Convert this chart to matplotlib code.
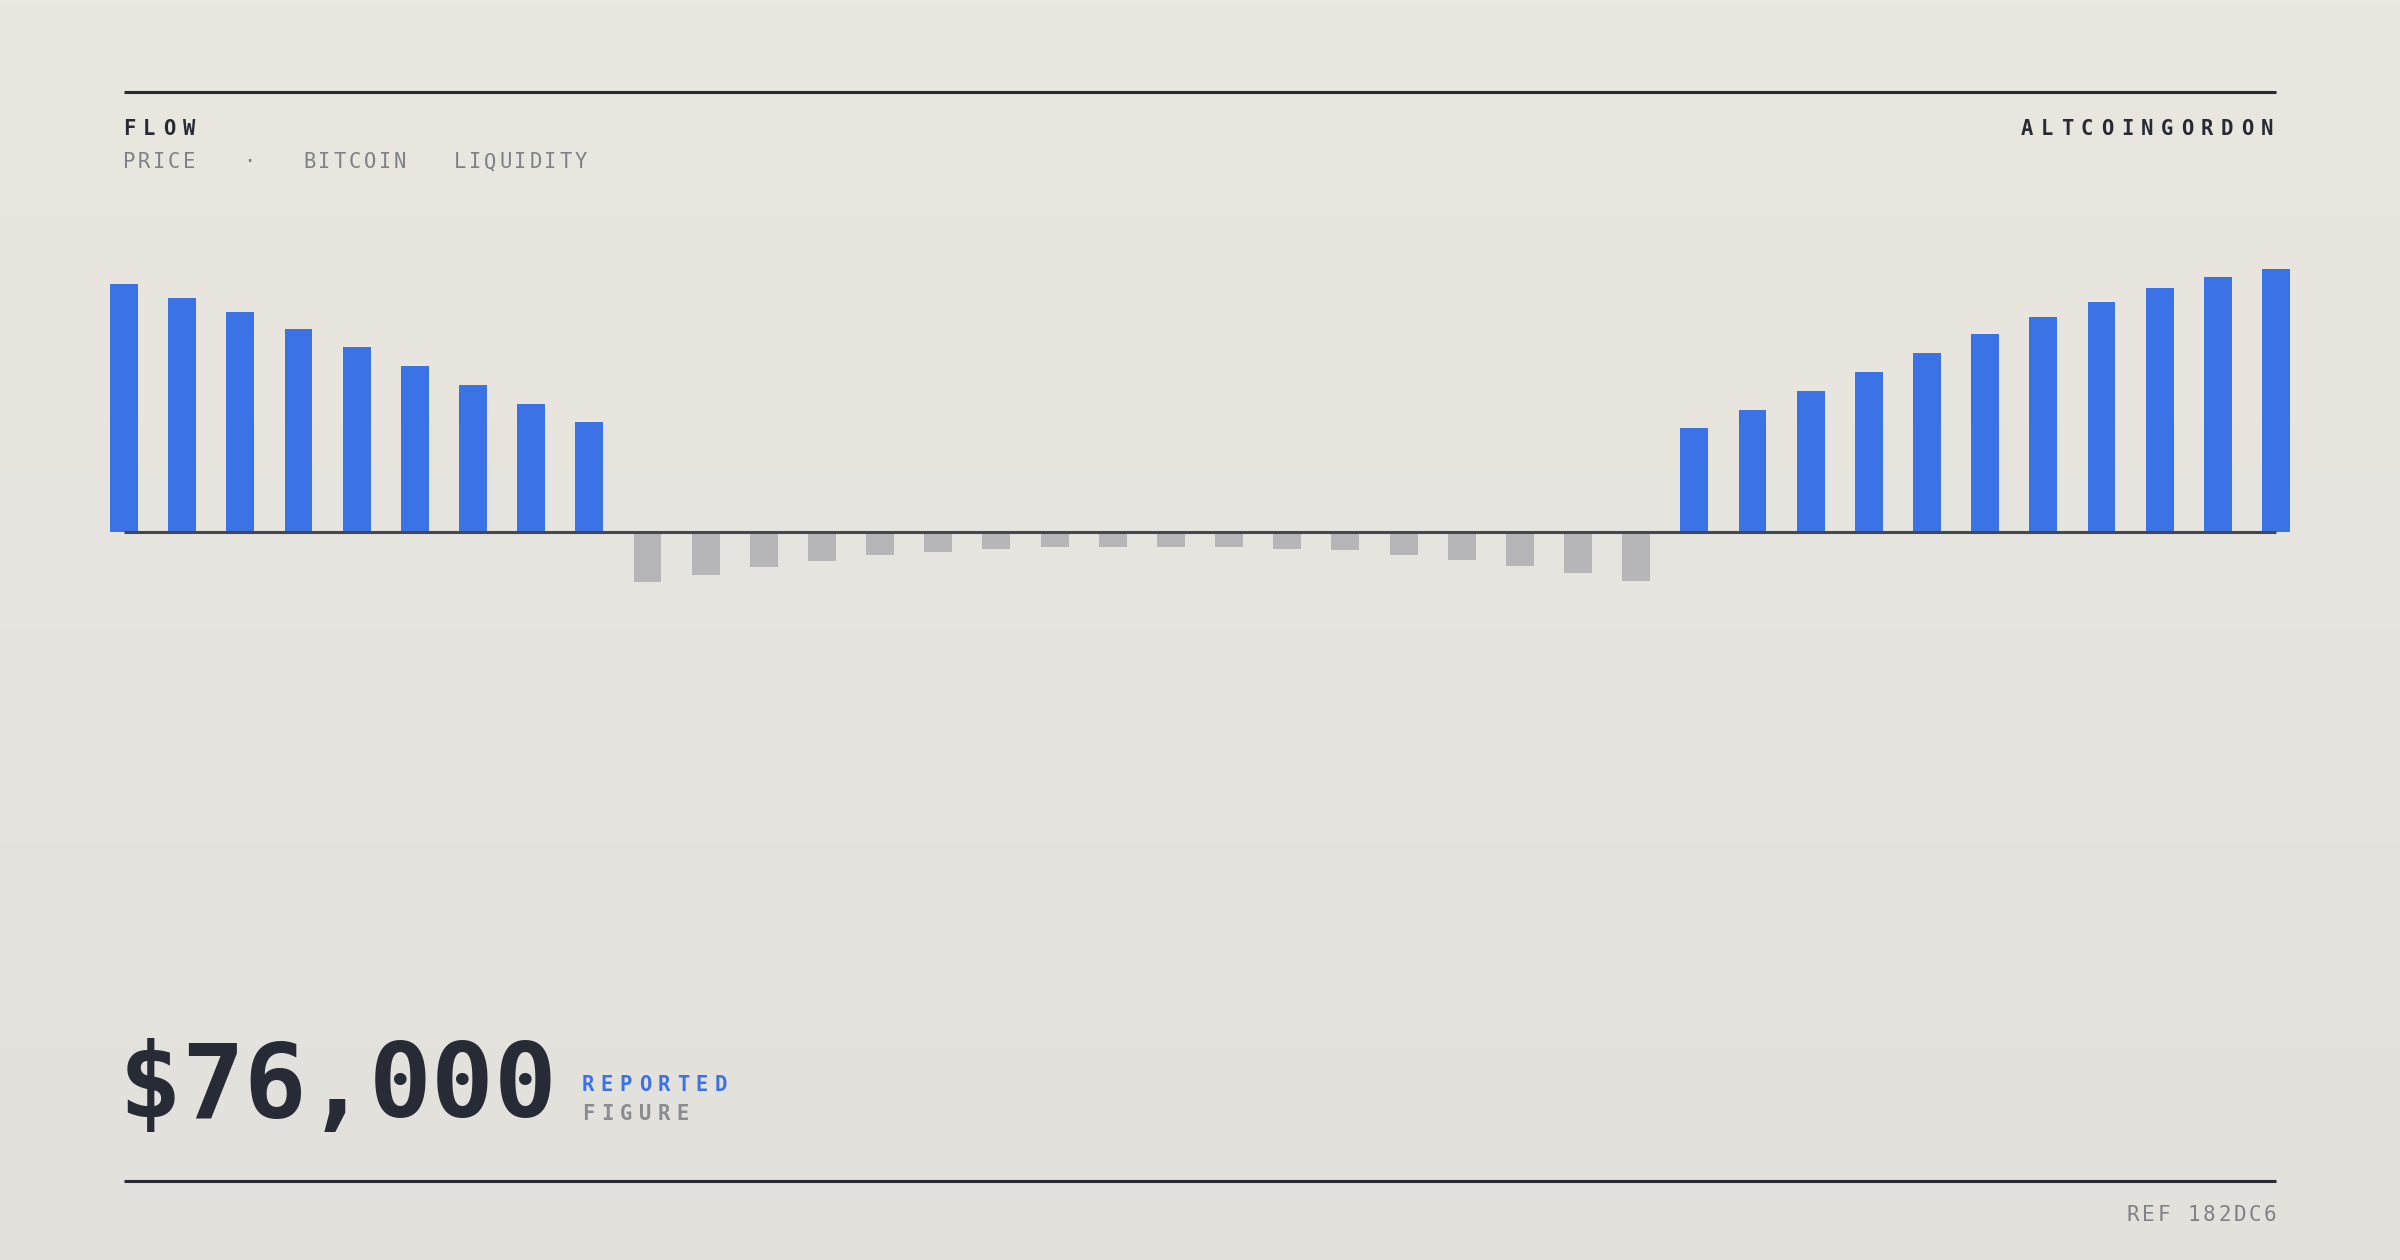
import numpy as np
import matplotlib
matplotlib.use('Agg')
import matplotlib.pyplot as plt

BG_TOP = '#eae7e0'
BG_BOT = '#e2e1dc'
INK = '#272b35'
BASE = '#45484f'
DIM = '#7f8188'
BLUE = '#3b73e6'
NEG = '#b6b6b8'
MONO = 'DejaVu Sans Mono'

# bar readings, arbitrary units (tallest = 100)
left_vals = [94.3, 89.0, 83.7, 77.2, 70.3, 63.1, 55.9, 48.7, 41.8]
dip_vals = [-19.2, -16.3, -13.3, -11.0, -8.7, -7.6, -6.5, -5.7, -5.7,
            -5.7, -5.7, -6.5, -6.8, -8.7, -10.6, -12.9, -15.6, -18.6]
right_vals = [39.5, 46.4, 53.6, 60.8, 68.1, 75.3, 81.7, 87.5, 92.8, 97.0, 100.0]

title = 'FLOW'
subtitle = 'PRICE   \u00b7   BITCOIN   LIQUIDITY'
brand = 'ALTCOINGORDON'
figure_value = '$76,000'
tag_top = 'REPORTED'
tag_bottom = 'FIGURE'
ref = 'REF 182DC6'

W, H = 2400, 1260
fig = plt.figure(figsize=(12, 6.3), dpi=200)

# background in pixel coordinates
bg = fig.add_axes([0, 0, 1, 1])
bg.set_xlim(0, W)
bg.set_ylim(H, 0)
bg.axis('off')
grad = np.linspace(0, 1, 256)[:, None]
c0 = np.array(matplotlib.colors.to_rgb(BG_TOP))
c1 = np.array(matplotlib.colors.to_rgb(BG_BOT))
img = c0[None, None, :] * (1 - grad[..., None]) + c1[None, None, :] * grad[..., None]
img = np.repeat(img, 2, axis=1)
bg.imshow(img, extent=[0, W, H, 0], aspect='auto', zorder=0)


def tracked(x0, y, s, pitch, **kw):
    # letter-spaced text, one glyph per cell
    for i, ch in enumerate(s):
        if ch != ' ':
            bg.text(x0 + i * pitch, y, ch, ha='center', va='baseline', family=MONO, **kw)


bg.plot([124, 2276], [92, 92], color=INK, lw=1.1, solid_capstyle='butt')
bg.plot([124, 2276], [1181, 1181], color=INK, lw=1.1, solid_capstyle='butt')

tracked(129, 135, title, 20, fontsize=7.4, fontweight='bold', color=INK)
tracked(129, 168, subtitle, 15.05, fontsize=7.4, color=DIM)
tracked(2267 - (len(brand) - 1) * 20, 135, brand, 20, fontsize=7.4, fontweight='bold', color=INK)
tracked(150, 1117, figure_value, 62.5, fontsize=37.5, fontweight='bold', color=INK)
tracked(588, 1091, tag_top, 19, fontsize=7.4, fontweight='bold', color=BLUE)
tracked(588, 1120, tag_bottom, 19, fontsize=7.4, fontweight='bold', color='#8a8b90')
tracked(2270 - (len(ref) - 1) * 15.2, 1221, ref, 15.2, fontsize=7.5, color=DIM)

# bar panel: x 0..37 spans 124..2276 px, baseline at 532 px
px_per_unit = 2.63
top_px, bot_px, base_px = 250, 600, 532
ax = fig.add_axes([124 / W, 1 - bot_px / H, 2152 / W, (bot_px - top_px) / H])
ax.patch.set_alpha(0)
ax.axis('off')
vals = left_vals + dip_vals + right_vals
xs = np.arange(len(vals))
colors = [BLUE if v > 0 else NEG for v in vals]
ax.bar(xs, vals, width=0.48, color=colors, clip_on=False, zorder=2)
ax.set_xlim(0, len(vals) - 1)
ax.set_ylim(-(bot_px - base_px) / px_per_unit, (base_px - top_px) / px_per_unit)
ax.plot([0, len(vals) - 1], [0, 0], color=BASE, lw=1.1, solid_capstyle='butt', zorder=3, clip_on=False)

fig.savefig('out.png', dpi=200)
